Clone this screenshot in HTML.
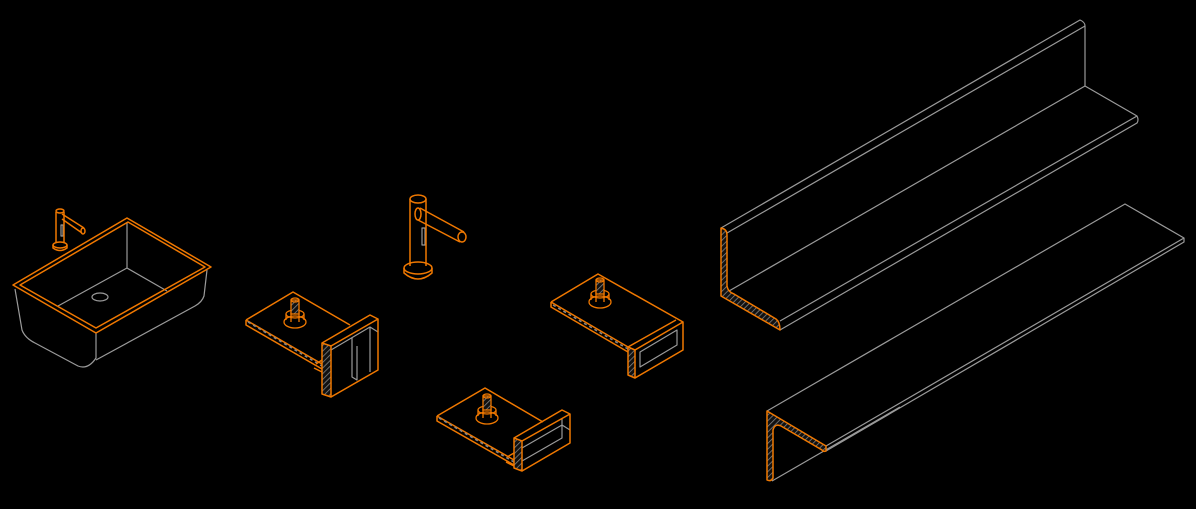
<!DOCTYPE html>
<html><head><meta charset="utf-8"><style>
html,body{margin:0;padding:0;background:#000;width:1196px;height:509px;overflow:hidden}
svg{display:block}
</style></head><body>
<svg width="1196" height="509" viewBox="0 0 1196 509" xmlns="http://www.w3.org/2000/svg">
<defs>
<pattern id="h" width="4" height="4" patternUnits="userSpaceOnUse" patternTransform="rotate(45)">
<rect width="4" height="4" fill="#111"/><line x1="0" y1="0" x2="0" y2="4" stroke="#888" stroke-width="1.5"/>
</pattern>
</defs>
<g fill="none" stroke="#9a9a9a" stroke-width="1.2" stroke-linejoin="round">
<!-- Angle 1 -->
<path d="M721,228 L1080,20 Q1085,22 1085,26 L1085,86 L1137,116 Q1139,120 1137,123 L780,330"/>
<path d="M727,233 L1085,26"/>
<path d="M729,291 L1085,86"/>
<path d="M780,321 L1137,116"/>
<!-- Angle 2 -->
<path d="M767,411 L1125,204 L1184,238 L1184,242 L826,451"/>
<path d="M826,446 L1184,238"/>
<path d="M772,481 L900,407"/>
<!-- sink gray -->
<path d="M127,222 L127,268 L58,306 M127,268 L167,291"/>
<ellipse cx="100" cy="297" rx="8" ry="4"/>
<path d="M15,289 L22,330 Q25,338 35,343 L78,366 Q88,370 96,358 L96,332"/>
<path d="M207,270 L204,296 Q202,302 195,306 L96,360"/>
<!-- faucet slots -->
<path d="M422,228 L422,245 L425,245 L425,228 Z"/>
<path d="M61,225 L61,236 L63,236 L63,225 Z"/>
<!-- bracket inner gray -->
<path d="M331,350 L370,327 L378,332 M352,338 L352,377 L357,380 L357,346 M370,327 L370,372"/>
<path d="M640,352 L677,330 L677,345 L640,367 Z"/>
<path d="M522,448 L562,425 L570,430 M562,418 L562,438 L522,461"/>
</g>
<g fill="none" stroke="#f07800" stroke-width="1.5" stroke-linejoin="round">
<!-- angle profiles -->
<path d="M721,228 Q727,229 727,235 L727,286 Q728,292 734,294 L776,319 Q780,322 780,330 L721,296 Z" fill="url(#h)"/>
<path d="M767,411 L826,446 L826,451 Q823,452 822,450 L781,426 Q775,423 773,430 L773,478 Q771,482 767,480 Z" fill="url(#h)"/>
<!-- sink rim -->
<path d="M13,285 L127,218 L211,267 L96,333 Z"/>
<path d="M20,285 L128,222 L205,267 L96,328 Z"/>
<!-- small faucet -->
<path d="M56,212 L56,242 M64,212 L64,242"/>
<ellipse cx="60" cy="211" rx="4" ry="2"/>
<ellipse cx="60" cy="245" rx="7" ry="3"/>
<path d="M53,245 L53,248 Q60,253 67,248 L67,245"/>
<path d="M62,214 L84,228 M62,219 L82,233"/>
<ellipse cx="83" cy="231" rx="2" ry="3"/>
<!-- big faucet -->
<ellipse cx="418" cy="199" rx="8" ry="4"/>
<path d="M410,199 L410,266 M426,199 L426,266"/>
<ellipse cx="418" cy="268" rx="14" ry="6"/>
<path d="M404,268 L404,273 Q418,285 432,273 L432,268"/>
<path d="M420,208 L464,232 M418,220 L460,242"/>
<ellipse cx="418" cy="214" rx="3" ry="6"/>
<ellipse cx="462" cy="237" rx="4" ry="5"/>
<!-- bracket A -->
<path d="M246,320 L293,292 L350,325 M246,320 L322,364 M246,320 L246,325 L322,369"/>
<path d="M248,322 L322,366" stroke="#888" stroke-dasharray="3 3"/>
<path d="M322,343 L331,346 L331,397 L322,394 Z" fill="url(#h)"/>
<path d="M322,343 L370,315 L378,319 L378,370 L331,397 M331,346 L378,319"/>
<path d="M316,364 L322,360 M314,368 L322,372"/>
<!-- bracket B -->
<path d="M551,302 L598,274 L683,322 M551,302 L628,347 M551,302 L551,307 L628,352"/>
<path d="M553,305 L628,349" stroke="#888" stroke-dasharray="3 3"/>
<path d="M628,347 L635,350 L635,378 L628,375 Z" fill="url(#h)"/>
<path d="M635,350 L683,322 L683,350 L635,378 M628,347 L676,320"/>
<!-- bracket C -->
<path d="M437,416 L485,388 L543,422 M437,416 L514,460 M437,416 L437,421 L514,465"/>
<path d="M439,418 L514,462" stroke="#888" stroke-dasharray="3 3"/>
<path d="M514,438 L522,441 L522,471 L514,468 Z" fill="url(#h)"/>
<path d="M514,438 L562,410 L570,414 L570,443 L522,471 M522,441 L570,414"/>
<path d="M507,457 L514,453 M506,462 L514,466"/>
</g>
<!-- nuts -->
<g stroke="#f07800" stroke-width="1.3" fill="none">
<g transform="translate(295,318)">
<ellipse cx="0" cy="4" rx="11" ry="6"/><path d="M-9,-4 L-9,2 M9,-4 L9,2 M-4,-6 L-4,4 M4,-6 L4,4"/><ellipse cx="0" cy="-4" rx="9" ry="4"/>
<rect x="-4" y="-18" width="8" height="14" fill="url(#h)"/><ellipse cx="0" cy="-18" rx="4" ry="2"/></g>
<g transform="translate(600,298)">
<ellipse cx="0" cy="4" rx="11" ry="6"/><path d="M-9,-4 L-9,2 M9,-4 L9,2 M-4,-6 L-4,4 M4,-6 L4,4"/><ellipse cx="0" cy="-4" rx="9" ry="4"/>
<rect x="-4" y="-18" width="8" height="14" fill="url(#h)"/><ellipse cx="0" cy="-18" rx="4" ry="2"/></g>
<g transform="translate(487,414)">
<ellipse cx="0" cy="4" rx="11" ry="6"/><path d="M-9,-4 L-9,2 M9,-4 L9,2 M-4,-6 L-4,4 M4,-6 L4,4"/><ellipse cx="0" cy="-4" rx="9" ry="4"/>
<rect x="-4" y="-18" width="8" height="14" fill="url(#h)"/><ellipse cx="0" cy="-18" rx="4" ry="2"/></g>
</g>
</svg>
</body></html>
